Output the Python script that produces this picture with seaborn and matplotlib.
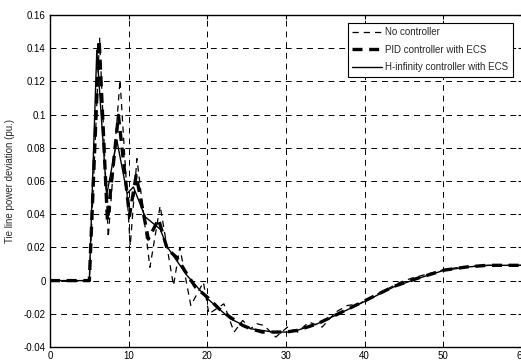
import matplotlib
matplotlib.use("Agg")
import matplotlib.pyplot as plt
import seaborn as sns
import pandas as pd

# time points (s) and tie line power deviation (pu.)
t_none = [0, 5, 6.3, 7.4, 8.9, 10.2, 11.05, 12.7, 14.0, 15.7, 16.5, 17.9, 19.5,
          20.2, 22.1, 23.4, 24.5, 25.5, 26.3, 27.2, 28.7, 30.2, 31.5, 32.9, 34.6,
          36.3, 37.8, 39.3, 41.2, 42.9, 44.5, 46.0, 48.0, 50.0, 52.0, 54.0, 56.0,
          58.0, 60.0]
v_none = [0, 0, 0.146, 0.026, 0.121, 0.021, 0.0735, 0.008, 0.045, -0.003, 0.020,
          -0.015, -0.001, -0.020, -0.014, -0.031, -0.024, -0.029, -0.026, -0.027,
          -0.034, -0.028, -0.031, -0.025, -0.028, -0.019, -0.015, -0.014, -0.009,
          -0.005, -0.001, 0.0015, 0.004, 0.0065, 0.008, 0.0088, 0.0092, 0.0093, 0.0092]

t_pid = [0, 5, 6.25, 7.3, 8.7, 10.1, 10.95, 12.5, 13.8, 14.9, 16.1, 17.4, 18.5,
         20.0, 21.5, 22.9, 24.5, 25.5, 27.0, 28.4, 30.0, 31.4, 34.0, 37.3, 40.3,
         43.7, 46.7, 50.1, 53.1, 55.6, 60.0]
v_pid = [0, 0, 0.145, 0.036, 0.0996, 0.039, 0.0634, 0.025, 0.037, 0.019, 0.014,
         0.004, -0.004, -0.010, -0.017, -0.022, -0.027, -0.029, -0.031, -0.031,
         -0.031, -0.030, -0.026, -0.0185, -0.0115, -0.0035, 0.0014, 0.0063, 0.0083,
         0.0092, 0.0092]

t_hinf = [0, 5, 5.95, 7.2, 8.5, 9.8, 10.6, 12.1, 14.0, 14.9, 17.4, 20.0, 22.9,
          25.5, 28.4, 30.2, 31.4, 34.0, 37.3, 40.3, 43.7, 46.7, 50.1, 53.1, 55.6,
          59.9]
v_hinf = [0, 0, 0.1388, 0.0514, 0.0845, 0.0524, 0.0564, 0.0384, 0.031, 0.0203,
          0.0032, -0.0108, -0.0229, -0.029, -0.031, -0.031, -0.030, -0.026, -0.0187,
          -0.0119, -0.0038, 0.0012, 0.0062, 0.0082, 0.0092, 0.0092]

sns.set_style("white")
plt.rcParams['font.family'] = ['Liberation Sans', 'DejaVu Sans']

fig = plt.figure(figsize=(5.21, 3.61), dpi=100)
ax = fig.add_axes([50 / 521, 14 / 361, 472 / 521, 332 / 361])

sns.lineplot(x=t_none, y=v_none, ax=ax, color='black', lw=0.9,
             linestyle=(0, (5, 4)), label='No controller')
sns.lineplot(x=t_pid, y=v_pid, ax=ax, color='black', lw=2.4,
             linestyle=(0, (3, 2)), label='PID controller with ECS')
sns.lineplot(x=t_hinf, y=v_hinf, ax=ax, color='black', lw=1.0,
             linestyle='-', label='H-infinity controller with ECS')

ax.set_xlim(0, 60)
ax.set_ylim(-0.04, 0.16)
ax.set_xticks([0, 10, 20, 30, 40, 50, 60])
ax.set_yticks([-0.04, -0.02, 0, 0.02, 0.04, 0.06, 0.08, 0.1, 0.12, 0.14, 0.16])
ax.set_yticklabels(['-0.04', '-0.02', '0', '0.02', '0.04', '0.06', '0.08',
                    '0.1', '0.12', '0.14', '0.16'])
ax.tick_params(direction='in', labelsize=7, length=3, top=True, right=True,
               pad=3, colors='black')
ax.grid(True, color='black', linestyle=(0, (6, 5)), linewidth=0.7)
for s in ax.spines.values():
    s.set_color('black')
    s.set_linewidth(1.0)

ax.set_ylabel('Tie line power deviation (pu.)', fontsize=7, labelpad=6)

leg = ax.legend(loc='upper right', bbox_to_anchor=(0.98, 0.977), fontsize=7,
                frameon=True, fancybox=False, edgecolor='black', framealpha=1,
                handlelength=3.0, borderpad=0.5, labelspacing=0.75,
                handletextpad=0.3, borderaxespad=0)
leg.get_frame().set_linewidth(0.8)

fig.savefig('out.png', dpi=100)
